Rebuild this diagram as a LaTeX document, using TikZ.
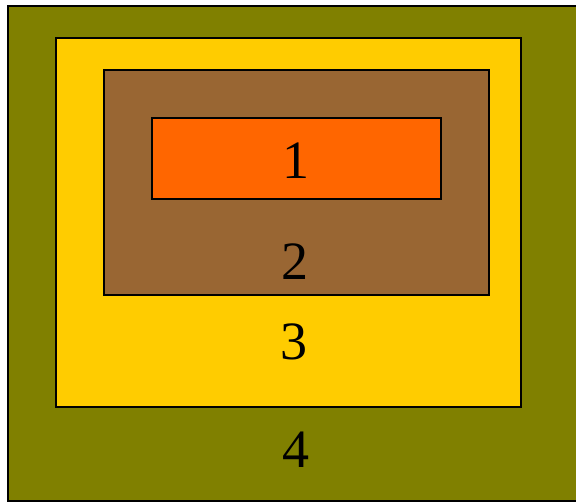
\documentclass[tikz,border=0pt]{standalone}
\usepackage{fontspec}
\setmainfont{Liberation Serif}
\usetikzlibrary{positioning}

\definecolor{olivebox}{HTML}{808000}
\definecolor{yellowbox}{HTML}{FFCC00}
\definecolor{brownbox}{HTML}{996633}
\definecolor{orangebox}{HTML}{FF6600}

\tikzset{
  layer/.style={draw=black,line width=2pt},
  numlabel/.style={inner sep=0pt,font=\fontsize{54}{60}\selectfont}
}

\begin{document}
\begin{tikzpicture}[x=1pt,y=-1pt]

\useasboundingbox (0,0) rectangle (576,502);
\clip (0,0) rectangle (576,502);

\fill[white] (0,0) rectangle (576,502);
\draw[layer,fill=olivebox] (8,6) rectangle (585,501);
\draw[layer,fill=yellowbox] (56,38) rectangle (521,407);
\draw[layer,fill=brownbox] (104,70) rectangle (489,295);
\draw[layer,fill=orangebox] (152,118) rectangle (441,199);

\node[numlabel] (l1) at (296,161) {1};
\node[numlabel] (l2) at (295,262) {2};
\node[numlabel] (l3) at (294,342) {3};
\node[numlabel] (l4) at (296,450) {4};

\end{tikzpicture}
\end{document}
